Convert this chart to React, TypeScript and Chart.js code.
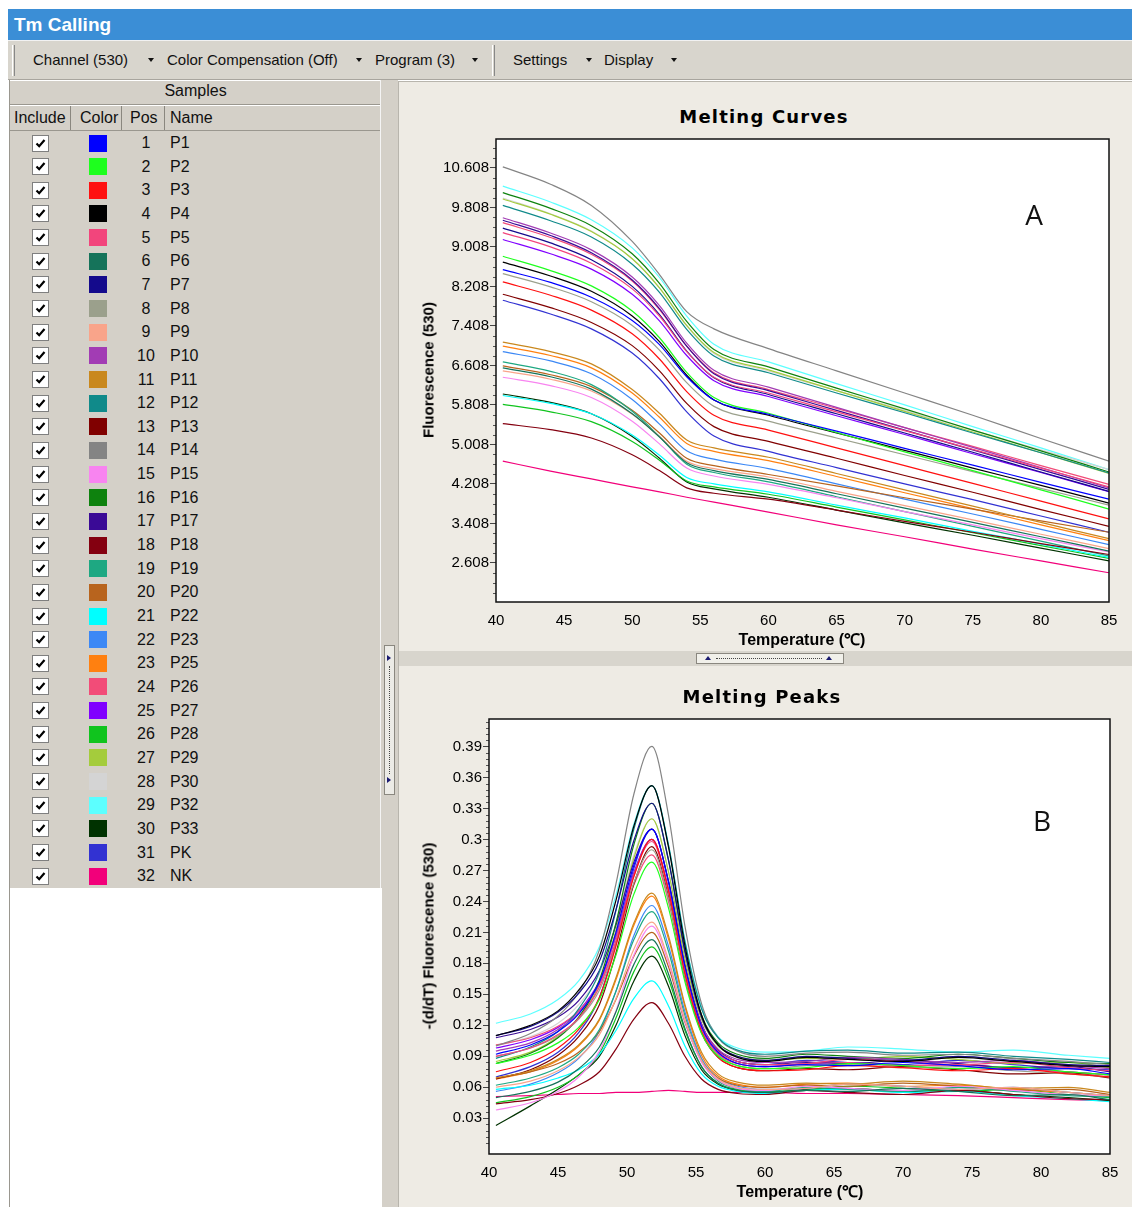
import React, { useEffect, useRef } from "react";
import { Chart, registerables } from "chart.js";
Chart.register(...registerables);

// ---------- Samples ----------
const SAMPLE_POS = [1, 2, 3, 4, 5, 6, 7, 8, 9, 10, 11, 12, 13, 14, 15, 16, 17, 18, 19, 20, 21, 22, 23, 24, 25, 26, 27, 28, 29, 30, 31, 32];
const SAMPLE_NAMES = ["P1", "P2", "P3", "P4", "P5", "P6", "P7", "P8", "P9", "P10", "P11", "P12", "P13", "P14", "P15", "P16", "P17", "P18", "P19", "P20", "P22", "P23", "P25", "P26", "P27", "P28", "P29", "P30", "P32", "P33", "PK", "NK"];
const SAMPLE_COLORS = ["#0000ff", "#1eff1e", "#ff1010", "#000000", "#f2457c", "#15735a", "#140a8c", "#9ba08c", "#f9a48a", "#a23cb4", "#c9881e", "#108a8a", "#800000", "#848484", "#f884f0", "#0e820e", "#3a0a96", "#840010", "#1ea882", "#b8641e", "#00ffff", "#3c88f5", "#ff8010", "#f24c78", "#8000ff", "#10c41e", "#a4cc3c", "#d4d4d4", "#5cffff", "#003200", "#3232d2", "#f2007a"];

// ---------- Axes ----------
const X_TICKS = [40, 45, 50, 55, 60, 65, 70, 75, 80, 85];
const Y_TICKS_A = [2.608, 3.408, 4.208, 5.008, 5.808, 6.608, 7.408, 8.208, 9.008, 9.808, 10.608];
const Y_TICKS_B = [0.03, 0.06, 0.09, 0.12, 0.15, 0.18, 0.21, 0.24, 0.27, 0.3, 0.33, 0.36, 0.39];

// ---------- Melting curves (A) ----------
const TEMP_A = [40.5, 44, 47, 50, 52, 54, 56, 60, 65, 70, 75, 80, 85];
const A_P1 = [8.55, 8.29, 7.99, 7.52, 7.03, 6.38, 5.91, 5.62, 5.28, 4.93, 4.59, 4.24, 3.90];
const A_P2 = [8.82, 8.53, 8.22, 7.71, 7.17, 6.47, 5.96, 5.64, 5.25, 4.86, 4.48, 4.09, 3.70];
const A_P3 = [8.30, 8.03, 7.73, 7.25, 6.74, 6.08, 5.60, 5.30, 4.94, 4.58, 4.22, 3.86, 3.50];
const A_P4 = [8.70, 8.42, 8.11, 7.61, 7.09, 6.41, 5.91, 5.60, 5.24, 4.89, 4.53, 4.18, 3.82];
const A_P5 = [9.30, 9.01, 8.68, 8.16, 7.61, 6.89, 6.37, 6.05, 5.67, 5.29, 4.91, 4.53, 4.15];
const A_P6 = [6.56, 6.38, 6.13, 5.63, 5.16, 4.64, 4.48, 4.30, 4.01, 3.72, 3.43, 3.14, 2.85];
const A_P7 = [9.39, 9.09, 8.75, 8.21, 7.64, 6.90, 6.36, 6.02, 5.63, 5.24, 4.85, 4.45, 4.06];
const A_P8 = [8.47, 8.20, 7.90, 7.42, 6.92, 6.26, 5.78, 5.48, 5.14, 4.80, 4.46, 4.12, 3.78];
const A_P9 = [6.50, 6.33, 6.09, 5.62, 5.17, 4.67, 4.52, 4.35, 4.06, 3.77, 3.48, 3.19, 2.90];
const A_P10 = [9.60, 9.29, 8.95, 8.40, 7.82, 7.06, 6.51, 6.17, 5.76, 5.35, 4.95, 4.54, 4.13];
const A_P11 = [7.08, 6.89, 6.64, 6.12, 5.64, 5.10, 4.94, 4.75, 4.42, 4.09, 3.76, 3.43, 3.10];
const A_P12 = [9.85, 9.54, 9.21, 8.66, 8.09, 7.34, 6.80, 6.46, 6.05, 5.65, 5.24, 4.84, 4.43];
const A_P13 = [8.05, 7.78, 7.48, 7.01, 6.50, 5.84, 5.37, 5.07, 4.73, 4.38, 4.04, 3.69, 3.35];
const A_P14 = [10.63, 10.28, 9.85, 9.12, 8.45, 7.70, 7.35, 6.95, 6.50, 6.05, 5.60, 5.13, 4.67];
const A_P15 = [6.37, 6.20, 5.96, 5.48, 5.02, 4.53, 4.37, 4.20, 3.93, 3.65, 3.38, 3.10, 2.83];
const A_P16 = [10.11, 9.79, 9.44, 8.87, 8.27, 7.50, 6.93, 6.58, 6.15, 5.73, 5.30, 4.88, 4.45];
const A_P17 = [9.55, 9.24, 8.89, 8.34, 7.76, 7.00, 6.44, 6.10, 5.70, 5.30, 4.90, 4.50, 4.10];
const A_P18 = [5.43, 5.31, 5.14, 4.80, 4.48, 4.13, 4.02, 3.90, 3.68, 3.45, 3.23, 3.00, 2.78];
const A_P19 = [6.68, 6.49, 6.22, 5.68, 5.17, 4.61, 4.44, 4.25, 3.95, 3.65, 3.35, 3.05, 2.75];
const A_P20 = [6.60, 6.42, 6.18, 5.70, 5.24, 4.73, 4.58, 4.40, 4.17, 3.93, 3.70, 3.46, 3.23];
const A_P22 = [6.00, 5.84, 5.63, 5.20, 4.79, 4.34, 4.21, 4.05, 3.78, 3.52, 3.25, 2.99, 2.72];
const A_P23 = [6.89, 6.70, 6.44, 5.92, 5.42, 4.88, 4.71, 4.52, 4.21, 3.90, 3.60, 3.29, 2.98];
const A_P25 = [7.00, 6.81, 6.56, 6.05, 5.56, 5.03, 4.87, 4.68, 4.36, 4.03, 3.71, 3.38, 3.06];
const A_P26 = [9.50, 9.20, 8.86, 8.32, 7.74, 7.00, 6.46, 6.12, 5.74, 5.35, 4.97, 4.58, 4.20];
const A_P27 = [9.16, 8.87, 8.56, 8.05, 7.51, 6.81, 6.30, 5.98, 5.59, 5.21, 4.82, 4.44, 4.05];
const A_P28 = [5.82, 5.67, 5.47, 5.07, 4.69, 4.27, 4.15, 4.00, 3.74, 3.48, 3.22, 2.96, 2.70];
const A_P29 = [9.98, 9.67, 9.32, 8.77, 8.18, 7.42, 6.87, 6.52, 6.10, 5.68, 5.26, 4.84, 4.42];
const A_P30 = [10.00, 9.68, 9.33, 8.77, 8.18, 7.41, 6.85, 6.50, 6.10, 5.70, 5.30, 4.90, 4.50];
const A_P32 = [10.24, 9.92, 9.56, 8.99, 8.39, 7.61, 7.04, 6.68, 6.24, 5.81, 5.37, 4.94, 4.50];
const A_P33 = [6.03, 5.86, 5.63, 5.17, 4.73, 4.25, 4.11, 3.94, 3.68, 3.42, 3.17, 2.91, 2.65];
const A_PK = [7.93, 7.65, 7.35, 6.86, 6.34, 5.67, 5.18, 4.87, 4.54, 4.21, 3.89, 3.56, 3.23];
const A_NK = [4.67, 4.47, 4.31, 4.15, 4.05, 3.94, 3.84, 3.64, 3.38, 3.14, 2.89, 2.65, 2.41];

// ---------- Melting peaks (B) ----------
const TEMP_B = [40.5, 43, 45, 46.5, 48, 49.2, 50.5, 51.8, 53, 54.2, 55.4, 56.6, 58, 60, 63, 66, 70, 74, 78, 82, 85];
const B_P1 = [.092, .101, .114, .131, .162, .210, .275, .310, .259, .177, .119, .094, .083, .080, .082, .081, .084, .081, .077, .078, .073];
const B_P2 = [.083, .091, .103, .118, .145, .188, .247, .278, .234, .162, .112, .090, .081, .078, .079, .083, .081, .078, .080, .075, .072];
const B_P3 = [.075, .084, .098, .116, .147, .197, .264, .300, .251, .170, .114, .089, .079, .076, .077, .081, .079, .076, .078, .073, .070];
const B_P4 = [.110, .120, .134, .154, .187, .241, .313, .352, .293, .197, .130, .101, .089, .085, .089, .087, .085, .089, .085, .081, .080];
const B_P5 = [.090, .098, .111, .127, .157, .202, .265, .298, .250, .173, .119, .095, .085, .082, .083, .087, .085, .082, .084, .079, .076];
const B_P6 = [.050, .056, .065, .078, .099, .133, .179, .203, .170, .117, .080, .064, .057, .055, .057, .056, .059, .056, .052, .053, .048];
const B_P7 = [.110, .119, .133, .151, .182, .232, .299, .335, .280, .191, .128, .101, .090, .086, .090, .088, .086, .090, .086, .082, .081];
const B_P8 = [.090, .098, .110, .126, .154, .198, .258, .290, .243, .167, .114, .091, .081, .078, .081, .082, .079, .080, .076, .073, .070];
const B_P9 = [.060, .066, .076, .089, .111, .146, .194, .220, .184, .126, .086, .068, .060, .058, .059, .063, .061, .058, .060, .055, .052];
const B_P10 = [.095, .103, .116, .132, .161, .206, .267, .300, .252, .175, .121, .097, .087, .084, .085, .089, .087, .084, .086, .081, .078];
const B_P11 = [.069, .076, .087, .101, .126, .166, .219, .248, .207, .140, .094, .073, .065, .062, .064, .063, .066, .063, .059, .060, .055];
const B_P12 = [.088, .099, .114, .136, .172, .231, .310, .352, .295, .201, .136, .108, .096, .092, .095, .096, .093, .094, .090, .087, .084];
const B_P13 = [.068, .077, .091, .109, .140, .190, .257, .293, .245, .167, .113, .089, .079, .076, .078, .077, .080, .077, .073, .074, .069];
const B_P14 = [.100, .112, .129, .152, .193, .257, .344, .390, .324, .216, .141, .108, .095, .090, .093, .094, .091, .092, .088, .085, .082];
const B_P15 = [.038, .045, .056, .070, .095, .134, .188, .216, .181, .124, .084, .067, .059, .057, .061, .059, .057, .061, .057, .053, .052];
const B_P16 = [.083, .093, .108, .128, .164, .219, .295, .335, .281, .192, .130, .103, .092, .088, .092, .090, .088, .092, .088, .084, .083];
const B_P17 = [.108, .116, .128, .144, .173, .217, .278, .310, .260, .178, .121, .096, .085, .082, .084, .083, .086, .083, .079, .080, .075];
const B_P18 = [.044, .048, .054, .062, .075, .097, .126, .142, .122, .090, .068, .058, .054, .053, .057, .055, .053, .057, .053, .049, .048];
const B_P19 = [.062, .069, .079, .092, .116, .153, .203, .230, .192, .129, .086, .066, .059, .056, .060, .058, .056, .060, .056, .052, .051];
const B_P20 = [.069, .075, .083, .094, .114, .145, .187, .210, .177, .123, .086, .069, .062, .060, .062, .061, .064, .061, .057, .058, .053];
const B_P22 = [.058, .062, .069, .077, .092, .115, .146, .163, .139, .100, .073, .061, .056, .054, .057, .058, .055, .056, .052, .049, .046];
const B_P23 = [.056, .063, .074, .088, .114, .153, .207, .236, .197, .133, .088, .069, .061, .058, .059, .063, .061, .058, .060, .055, .052];
const B_P25 = [.068, .075, .086, .100, .125, .164, .217, .245, .204, .138, .091, .071, .063, .060, .063, .064, .061, .062, .058, .055, .052];
const B_P26 = [.101, .108, .119, .134, .160, .200, .256, .285, .240, .166, .115, .092, .083, .080, .083, .084, .081, .082, .078, .075, .072];
const B_P27 = [.098, .106, .118, .134, .163, .207, .268, .300, .252, .172, .117, .093, .083, .080, .083, .084, .081, .082, .078, .075, .072];
const B_P28 = [.045, .051, .060, .072, .093, .127, .172, .196, .165, .115, .080, .064, .058, .056, .057, .061, .059, .056, .058, .053, .050];
const B_P29 = [.085, .094, .109, .127, .160, .212, .282, .320, .269, .184, .126, .100, .090, .086, .088, .087, .090, .087, .083, .084, .079];
const B_P30 = [.100, .109, .122, .140, .170, .219, .285, .320, .269, .184, .126, .100, .090, .086, .090, .088, .086, .090, .086, .082, .081];
const B_P32 = [.122, .131, .145, .163, .196, .246, .315, .352, .295, .202, .138, .109, .098, .094, .095, .099, .097, .094, .096, .091, .088];
const B_P33 = [.023, .042, .058, .072, .090, .120, .163, .187, .158, .110, .077, .063, .057, .055, .058, .059, .056, .057, .053, .050, .047];
const B_PK = [.070, .080, .094, .113, .147, .200, .272, .310, .260, .178, .121, .096, .085, .082, .086, .084, .082, .086, .082, .078, .077];
const B_NK = [.051, .052, .053, .054, .054, .055, .055, .056, .057, .056, .055, .055, .055, .055, .054, .054, .053, .052, .050, .048, .047];

const CURVES_A = [A_P1, A_P2, A_P3, A_P4, A_P5, A_P6, A_P7, A_P8, A_P9, A_P10, A_P11, A_P12, A_P13, A_P14, A_P15, A_P16, A_P17, A_P18, A_P19, A_P20, A_P22, A_P23, A_P25, A_P26, A_P27, A_P28, A_P29, A_P30, A_P32, A_P33, A_PK, A_NK];
const CURVES_B = [B_P1, B_P2, B_P3, B_P4, B_P5, B_P6, B_P7, B_P8, B_P9, B_P10, B_P11, B_P12, B_P13, B_P14, B_P15, B_P16, B_P17, B_P18, B_P19, B_P20, B_P22, B_P23, B_P25, B_P26, B_P27, B_P28, B_P29, B_P30, B_P32, B_P33, B_PK, B_NK];

const FONT = '"Liberation Sans", Arial, sans-serif';
const PANEL_GRAY = "#d4d0c8";
const RIGHT_BG = "#eeebe4";

function MeltChart(props: any) {
  const ref = useRef<HTMLCanvasElement>(null);
  const { temps, curves, yMin, yMax, yTicks, minorPerMajor, decimals, yAxisWidth, xAxisHeight, padRight, padTop, left, top, width, height } = props;
  useEffect(() => {
    const canvas = ref.current;
    if (!canvas) return;
    const datasets = curves.map((c: number[], i: number) => ({
      label: SAMPLE_NAMES[i],
      data: c.map((v, j) => ({ x: temps[j], y: v })),
      borderColor: SAMPLE_COLORS[i],
      backgroundColor: SAMPLE_COLORS[i],
      borderWidth: 1.2,
      pointRadius: 0,
      fill: false,
      cubicInterpolationMode: "monotone",
    }));
    const framePlugin = {
      id: "frame",
      beforeDraw(chart: any) {
        const { ctx, chartArea: a } = chart;
        ctx.save();
        ctx.fillStyle = "#ffffff";
        ctx.fillRect(a.left, a.top, a.right - a.left, a.bottom - a.top);
        ctx.restore();
      },
      afterDraw(chart: any) {
        const { ctx, chartArea: a } = chart;
        const ys = chart.scales.y;
        ctx.save();
        ctx.strokeStyle = "#555";
        ctx.lineWidth = 1;
        ctx.beginPath();
        const step = (yTicks[1] - yTicks[0]) / minorPerMajor;
        for (let k = -minorPerMajor * 3; k < yTicks.length * minorPerMajor + minorPerMajor * 3; k++) {
          if (k % minorPerMajor === 0) continue;
          const v = yTicks[0] + k * step;
          if (v <= ys.min || v >= ys.max) continue;
          const py = Math.round(ys.getPixelForValue(v)) + 0.5;
          ctx.moveTo(a.left - 3, py);
          ctx.lineTo(a.left, py);
        }
        ctx.stroke();
        ctx.strokeStyle = "#111";
        ctx.lineWidth = 1.5;
        ctx.strokeRect(a.left, a.top, a.right - a.left, a.bottom - a.top);
        ctx.restore();
      },
    };
    const chart = new Chart(canvas, {
      type: "line",
      data: { datasets },
      plugins: [framePlugin],
      options: {
        animation: false,
        responsive: false,
        maintainAspectRatio: false,
        layout: { padding: { left: 0, right: padRight, top: padTop, bottom: 0 } },
        plugins: { legend: { display: false }, tooltip: { enabled: false }, title: { display: false } },
        scales: {
          x: {
            type: "linear",
            min: 40,
            max: 85,
            afterBuildTicks: (s: any) => { s.ticks = X_TICKS.map((v) => ({ value: v })); },
            afterFit: (s: any) => { s.height = xAxisHeight; s.paddingLeft = 0; s.paddingRight = 0; },
            grid: { display: false },
            border: { display: false },
            ticks: { color: "#000", font: { family: FONT, size: 15 }, padding: 2, maxRotation: 0, autoSkip: false, callback: (v: any) => String(v) },
          },
          y: {
            type: "linear",
            min: yMin,
            max: yMax,
            afterBuildTicks: (s: any) => { s.ticks = yTicks.map((v: number) => ({ value: v })); },
            afterFit: (s: any) => { s.width = yAxisWidth; s.paddingTop = 0; s.paddingBottom = 0; },
            grid: { display: true, drawOnChartArea: false, drawTicks: true, tickLength: 6, color: "#444", lineWidth: 1 },
            border: { display: false },
            ticks: {
              color: "#000",
              font: { family: FONT, size: 15 },
              padding: 1,
              autoSkip: false,
              callback: (v: any) => (decimals === 3 ? Number(v).toFixed(3) : String(parseFloat(Number(v).toFixed(2)))),
            },
          },
        },
      } as any,
    });
    return () => chart.destroy();
  }, []);
  return <canvas ref={ref} width={width} height={height} style={{ position: "absolute", left, top, width, height }} />;
}

function Abs(props: any) {
  const { x, y, w, h, style, children } = props;
  return <div style={{ position: "absolute", left: x, top: y, width: w, height: h, ...style }}>{children}</div>;
}

function DownArrow({ x }: { x: number }) {
  return <div style={{ position: "absolute", left: x, top: 58, width: 0, height: 0, borderLeft: "3.5px solid transparent", borderRight: "3.5px solid transparent", borderTop: "4px solid #111" }} />;
}

function Grip({ x }: { x: number }) {
  return <div style={{ position: "absolute", left: x, top: 45, width: 1, height: 31, borderLeft: "1px solid #ffffff", borderRight: "1px solid #888" }} />;
}

function CenterText(props: any) {
  const { cx, cy, children, style, rotate } = props;
  return (
    <div style={{ position: "absolute", left: cx, top: cy, transform: `translate(-50%, -50%)${rotate ? " rotate(-90deg)" : ""}`, whiteSpace: "nowrap", ...style }}>
      {children}
    </div>
  );
}

export default function App() {
  const toolText = { position: "absolute" as const, top: 51, fontSize: 15, lineHeight: "18px", fontFamily: FONT, color: "#111", whiteSpace: "nowrap" as const };
  const colHead = { position: "absolute" as const, top: 109, fontSize: 16, lineHeight: "18px", fontFamily: FONT, color: "#111" };
  const axisTitle = { fontFamily: FONT, fontWeight: 700, fontSize: 16, color: "#000" };
  const chartTitle = { fontFamily: '"DejaVu Sans", Verdana, sans-serif', fontWeight: 700, fontSize: 18, letterSpacing: "1.2px", color: "#000" };
  return (
    <div style={{ position: "absolute", left: 0, top: 0, width: 1132, height: 1207, background: "#ffffff", overflow: "hidden", fontFamily: FONT }}>
      {/* title bar */}
      <Abs x={8} y={9} w={1124} h={31} style={{ background: "#3b8ed6" }} />
      <div style={{ position: "absolute", left: 14, top: 14, fontSize: 19, fontWeight: 700, color: "#fff", lineHeight: "22px", fontFamily: FONT }}>Tm Calling</div>
      {/* toolbar */}
      <Abs x={8} y={40} w={1124} h={40} style={{ background: "#d8d5cd", borderTop: "1px solid #f2f2f2", borderBottom: "1px solid #a8a59e", boxSizing: "border-box" }} />
      <Grip x={12} />
      <div style={{ ...toolText, left: 33 }}>Channel (530)</div>
      <DownArrow x={148} />
      <div style={{ ...toolText, left: 167 }}>Color Compensation (Off)</div>
      <DownArrow x={356} />
      <div style={{ ...toolText, left: 375 }}>Program (3)</div>
      <DownArrow x={472} />
      <Grip x={492} />
      <div style={{ ...toolText, left: 513 }}>Settings</div>
      <DownArrow x={586} />
      <div style={{ ...toolText, left: 604 }}>Display</div>
      <DownArrow x={671} />

      {/* left samples panel */}
      <Abs x={9} y={80} w={373} h={808} style={{ background: PANEL_GRAY, borderLeft: "1px solid #9a978f", boxSizing: "border-box" }} />
      <Abs x={9} y={888} w={373} h={319} style={{ background: "#ffffff", borderLeft: "1px solid #9a978f", boxSizing: "border-box" }} />
      <Abs x={10} y={80} w={371} h={25} style={{ borderTop: "1px solid #fff", borderBottom: "1px solid #9a978f", boxSizing: "border-box" }} />
      <div style={{ position: "absolute", left: 10, top: 82, width: 371, textAlign: "center", fontSize: 16, lineHeight: "18px", color: "#111" }}>Samples</div>
      <Abs x={10} y={105} w={371} h={26} style={{ borderTop: "1px solid #fff", borderBottom: "1px solid #9a978f", boxSizing: "border-box" }} />
      <div style={{ ...colHead, left: 14 }}>Include</div>
      <Abs x={70} y={106} w={1} h={24} style={{ background: "#8a877f" }} />
      <div style={{ ...colHead, left: 80 }}>Color</div>
      <Abs x={121} y={106} w={1} h={24} style={{ background: "#8a877f" }} />
      <div style={{ ...colHead, left: 130 }}>Pos</div>
      <Abs x={164} y={106} w={1} h={24} style={{ background: "#8a877f" }} />
      <div style={{ ...colHead, left: 170 }}>Name</div>
      <Abs x={380} y={80} w={1} h={808} style={{ background: "#f4f4f4" }} />
      {SAMPLE_NAMES.map((name, i) => {
        const cy = 143 + i * 23.65;
        return (
          <React.Fragment key={name}>
            <div style={{ position: "absolute", left: 32, top: cy - 8.5, width: 17, height: 17, background: "#fff", border: "1px solid #7f7f7f", boxSizing: "border-box" }}>
              <svg width="15" height="15" style={{ position: "absolute", left: 0, top: 0 }}>
                <path d="M3.5 7.5 L6.2 10.2 L11.5 4" stroke="#000" strokeWidth="2.2" fill="none" />
              </svg>
            </div>
            <div style={{ position: "absolute", left: 89, top: cy - 8.5, width: 18, height: 17, background: SAMPLE_COLORS[i] }} />
            <div style={{ position: "absolute", left: 126, top: cy - 9, width: 40, textAlign: "center", fontSize: 16, lineHeight: "18px", color: "#111" }}>{SAMPLE_POS[i]}</div>
            <div style={{ position: "absolute", left: 170, top: cy - 9, fontSize: 16, lineHeight: "18px", color: "#111" }}>{name}</div>
          </React.Fragment>
        );
      })}

      {/* vertical splitter */}
      <Abs x={382} y={80} w={16} h={1127} style={{ background: PANEL_GRAY }} />
      <Abs x={384} y={645} w={11} h={150} style={{ background: "#ecebe6", border: "1px solid #8a877f", boxSizing: "border-box" }} />
      <div style={{ position: "absolute", left: 387, top: 655, width: 0, height: 0, borderTop: "3.5px solid transparent", borderBottom: "3.5px solid transparent", borderLeft: "4px solid #1a1a70" }} />
      <Abs x={389} y={666} w={0} h={108} style={{ borderLeft: "1px dotted #444" }} />
      <div style={{ position: "absolute", left: 387, top: 777, width: 0, height: 0, borderTop: "3.5px solid transparent", borderBottom: "3.5px solid transparent", borderLeft: "4px solid #1a1a70" }} />

      {/* right panel */}
      <Abs x={398} y={81} w={734} h={1126} style={{ background: RIGHT_BG, borderLeft: "1px solid #b8b5ad", borderTop: "1px solid #b8b5ad", boxSizing: "border-box" }} />
      {/* horizontal splitter */}
      <Abs x={399} y={651} w={733} h={15} style={{ background: "#d8d5cd" }} />
      <Abs x={696} y={653} w={148} h={11} style={{ background: "#f1f0ea", border: "1px solid #8a877f", boxSizing: "border-box" }} />
      <div style={{ position: "absolute", left: 705, top: 656, width: 0, height: 0, borderLeft: "3.5px solid transparent", borderRight: "3.5px solid transparent", borderBottom: "4px solid #1a1a70" }} />
      <Abs x={716} y={658} w={106} h={0} style={{ borderTop: "1px dotted #444" }} />
      <div style={{ position: "absolute", left: 826, top: 656, width: 0, height: 0, borderLeft: "3.5px solid transparent", borderRight: "3.5px solid transparent", borderBottom: "4px solid #1a1a70" }} />

      {/* chart A */}
      <CenterText cx={764} cy={116} style={chartTitle}>Melting Curves</CenterText>
      <MeltChart
        temps={TEMP_A} curves={CURVES_A} yMin={1.818} yMax={11.195} yTicks={Y_TICKS_A} minorPerMajor={4} decimals={3}
        yAxisWidth={98} xAxisHeight={28} padRight={23} padTop={9} left={398} top={130} width={734} height={500}
      />
      <CenterText cx={802} cy={639} style={axisTitle}>Temperature (℃)</CenterText>
      <CenterText cx={428} cy={370} rotate style={{ ...axisTitle, fontSize: 15 }}>Fluorescence (530)</CenterText>
      <CenterText cx={1034} cy={214} style={{ fontFamily: '"Open Sans", sans-serif', fontSize: 28, color: "#111" }}>A</CenterText>

      {/* chart B */}
      <CenterText cx={762} cy={696} style={chartTitle}>Melting Peaks</CenterText>
      <MeltChart
        temps={TEMP_B} curves={CURVES_B} yMin={-0.0046} yMax={0.4166} yTicks={Y_TICKS_B} minorPerMajor={5} decimals={2}
        yAxisWidth={91} xAxisHeight={36} padRight={22} padTop={9} left={398} top={710} width={734} height={480}
      />
      <CenterText cx={800} cy={1191} style={axisTitle}>Temperature (℃)</CenterText>
      <CenterText cx={428} cy={936} rotate style={{ ...axisTitle, fontSize: 15 }}>-(d/dT) Fluorescence (530)</CenterText>
      <CenterText cx={1042} cy={820} style={{ fontFamily: '"Open Sans", sans-serif', fontSize: 28, color: "#111" }}>B</CenterText>
    </div>
  );
}
